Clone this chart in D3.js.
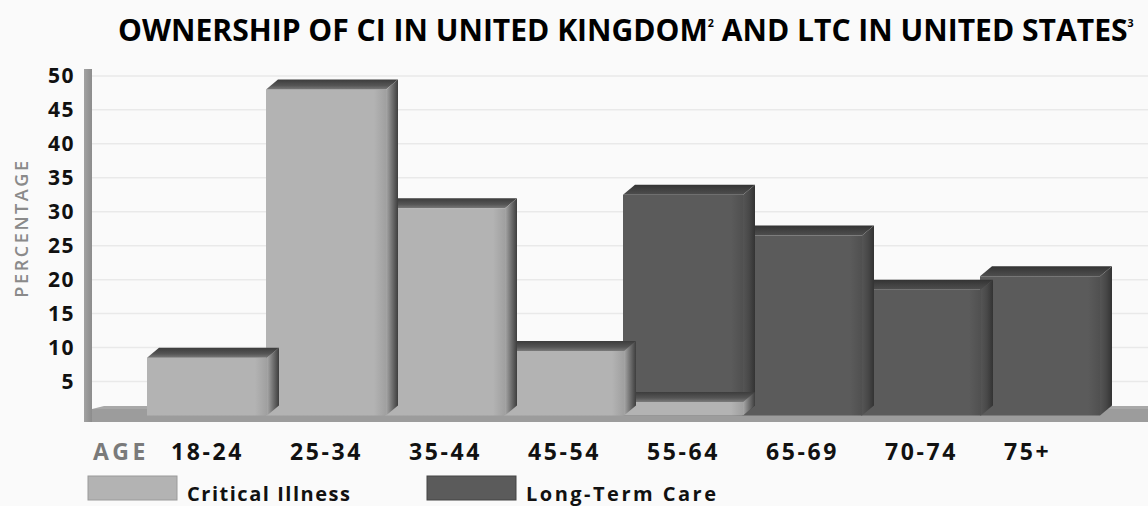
<!DOCTYPE html>
<html>
<head>
<meta charset="utf-8">
<script src="https://cdn.jsdelivr.net/npm/d3@7"></script>
<style>
  html, body { margin: 0; padding: 0; background: #fafafa; }
  svg { display: block; }
  text { font-family: "Open Sans", "DejaVu Sans", sans-serif; }
</style>
</head>
<body>
<svg id="chart" width="1148" height="506"></svg>
<script>
// ---- data ----
const categories = ["18-24", "25-34", "35-44", "45-54", "55-64", "65-69", "70-74", "75+"];
const ciValues  = [8.5, 48, 30.5, 9.5, 2, null, null, null];
const ltcValues = [null, null, null, null, 32.5, 26.5, 18.5, 20.5];
const yTicks = [5, 10, 15, 20, 25, 30, 35, 40, 45, 50];
const seriesNames = ["Critical Illness", "Long-Term Care"];
const titleMain = "OWNERSHIP OF CI IN UNITED KINGDOM";
const titleSup1 = "2";
const titleMid = " AND LTC IN UNITED STATES";
const titleSup2 = "3";

// ---- layout ----
const W = 1148, H = 506;
const svg = d3.select("#chart");
svg.append("rect").attr("width", W).attr("height", H).attr("fill", "#fafafa");

const x = d3.scaleBand().domain(categories).range([147, 147 + 8 * 119]).padding(0);
const y = d3.scaleLinear().domain([0, 50]).range([415.5, 75.9]);
const DX = 12, DY = 10;
const colors = { ci: "#b3b3b3", ltc: "#5b5b5b" };

const defs = svg.append("defs");
function grad(id, x2, y2, stops) {
  const g = defs.append("linearGradient").attr("id", id)
    .attr("x1", 0).attr("y1", 0).attr("x2", x2).attr("y2", y2);
  stops.forEach(s => g.append("stop").attr("offset", s[0]).attr("stop-color", s[1]));
}
grad("topCI", 0, 1, [[0, "#3c3c3c"], [0.6, "#555"], [1, "#7a7a7a"]]);
grad("sideCI", 1, 0, [[0, "#a8a8a8"], [0.45, "#777"], [1, "#3e3e3e"]]);
grad("topLTC", 0, 1, [[0, "#333"], [0.6, "#444"], [1, "#4e4e4e"]]);
grad("sideLTC", 1, 0, [[0, "#555"], [0.5, "#484848"], [1, "#333"]]);
grad("wallG", 1, 0, [[0, "#a2a2a2"], [1, "#8c8c8c"]]);
grad("frontCI", 1, 0, [[0, "#b3b3b3"], [0.9, "#b3b3b3"], [1, "#a0a0a0"]]);
grad("frontLTC", 1, 0, [[0, "#5b5b5b"], [0.9, "#5b5b5b"], [1, "#505050"]]);

// gridlines
svg.append("g").selectAll("line").data(yTicks).join("line")
  .attr("x1", 92).attr("x2", W)
  .attr("y1", d => y(d)).attr("y2", d => y(d))
  .attr("stroke", "#e9e9e9").attr("stroke-width", 1.5);

// floor
const floorTop = y(0) - 6.5, floorBot = y(0) + 6.5;
svg.append("path")
  .attr("d", `M92,${floorTop} L${W},${floorTop} L${W},${floorBot} L84,${floorBot} L84,${floorTop + 4} Z`)
  .attr("fill", "#9c9c9c");
svg.append("path")
  .attr("d", `M92,${floorTop} L104,${floorTop - 3} L${W},${floorTop - 3} L${W},${floorTop} Z`)
  .attr("fill", "#a8a8a8");

// wall
svg.append("rect").attr("x", 84).attr("y", 69).attr("width", 8).attr("height", floorBot - 69)
  .attr("fill", "url(#wallG)");

// y axis labels
svg.append("g").selectAll("text").data(yTicks).join("text")
  .attr("x", 75).attr("y", d => y(d) + 7.5)
  .attr("text-anchor", "end")
  .attr("font-size", 21).attr("font-weight", 700).attr("letter-spacing", 1.5)
  .attr("fill", "#111").text(d => d);

svg.append("text")
  .attr("transform", `translate(28,228) rotate(-90)`)
  .attr("text-anchor", "middle")
  .attr("font-size", 18).attr("font-weight", 600).attr("letter-spacing", 2.6)
  .attr("fill", "#8a8a8a").text("PERCENTAGE");

// bars: build list, draw right-to-left so left bars' sides overlay
const bars = [];
categories.forEach((c, i) => {
  if (ltcValues[i] != null) bars.push({ cat: c, i, v: ltcValues[i], s: "ltc" });
  if (ciValues[i] != null) bars.push({ cat: c, i, v: ciValues[i], s: "ci" });
});
bars.sort((a, b) => b.i - a.i || (a.s === "ltc" ? -1 : 1));

const bw = x.bandwidth() + 1;
const base = y(0);
const gb = svg.append("g");
bars.forEach(b => {
  const x0 = x(b.cat), x1 = x0 + bw, yt = y(b.v);
  const g = gb.append("g");
  g.append("rect").attr("x", x0).attr("y", yt).attr("width", bw).attr("height", base - yt)
    .attr("fill", b.s === "ci" ? "url(#frontCI)" : "url(#frontLTC)");
  g.append("path")
    .attr("d", `M${x0},${yt} L${x0 + DX},${yt - DY} L${x1 + DX},${yt - DY} L${x1},${yt} Z`)
    .attr("fill", b.s === "ci" ? "url(#topCI)" : "url(#topLTC)");
  g.append("path")
    .attr("d", `M${x1},${yt} L${x1 + DX},${yt - DY} L${x1 + DX},${base - DY} L${x1},${base} Z`)
    .attr("fill", b.s === "ci" ? "url(#sideCI)" : "url(#sideLTC)");
});

// x labels
svg.append("text").attr("x", 93).attr("y", 460)
  .attr("font-size", 23).attr("font-weight", 700).attr("letter-spacing", 3.5)
  .attr("fill", "#7a7a7a").text("AGE");
svg.append("g").selectAll("text").data(categories).join("text")
  .attr("x", d => x(d) + 24)
  .attr("y", 460)
  .attr("font-size", 23).attr("font-weight", 700).attr("letter-spacing", 2.6)
  .attr("fill", "#111").text(d => d);

// legend
const leg = svg.append("g");
const legendTextLen = [163, 190];
seriesNames.forEach((n, i) => {
  const lx = i === 0 ? 88 : 427;
  leg.append("rect").attr("x", lx).attr("y", 476).attr("width", 89).attr("height", 24)
    .attr("fill", i === 0 ? colors.ci : colors.ltc)
    .attr("stroke", i === 0 ? "#9a9a9a" : "#444").attr("stroke-width", 1);
  leg.append("text").attr("x", lx + 99).attr("y", 501)
    .attr("font-size", 20).attr("font-weight", 700)
    .attr("textLength", legendTextLen[i]).attr("lengthAdjust", "spacing")
    .attr("fill", "#111").text(n);
});

// title
const t = svg.append("text").attr("x", 0).attr("y", 0)
  .attr("font-size", 31).attr("font-weight", 700).attr("fill", "#000");
t.append("tspan").text(titleMain);
t.append("tspan").attr("font-size", 11).attr("dy", -14).text(titleSup1);
t.append("tspan").attr("dy", 14).text(titleMid);
t.append("tspan").attr("font-size", 11).attr("dy", -14).text(titleSup2);
const tw = t.node().getComputedTextLength();
const targetW = 1134 - 118;
t.attr("transform", `translate(118,41) scale(${targetW / tw},1)`);
</script>
</body>
</html>
